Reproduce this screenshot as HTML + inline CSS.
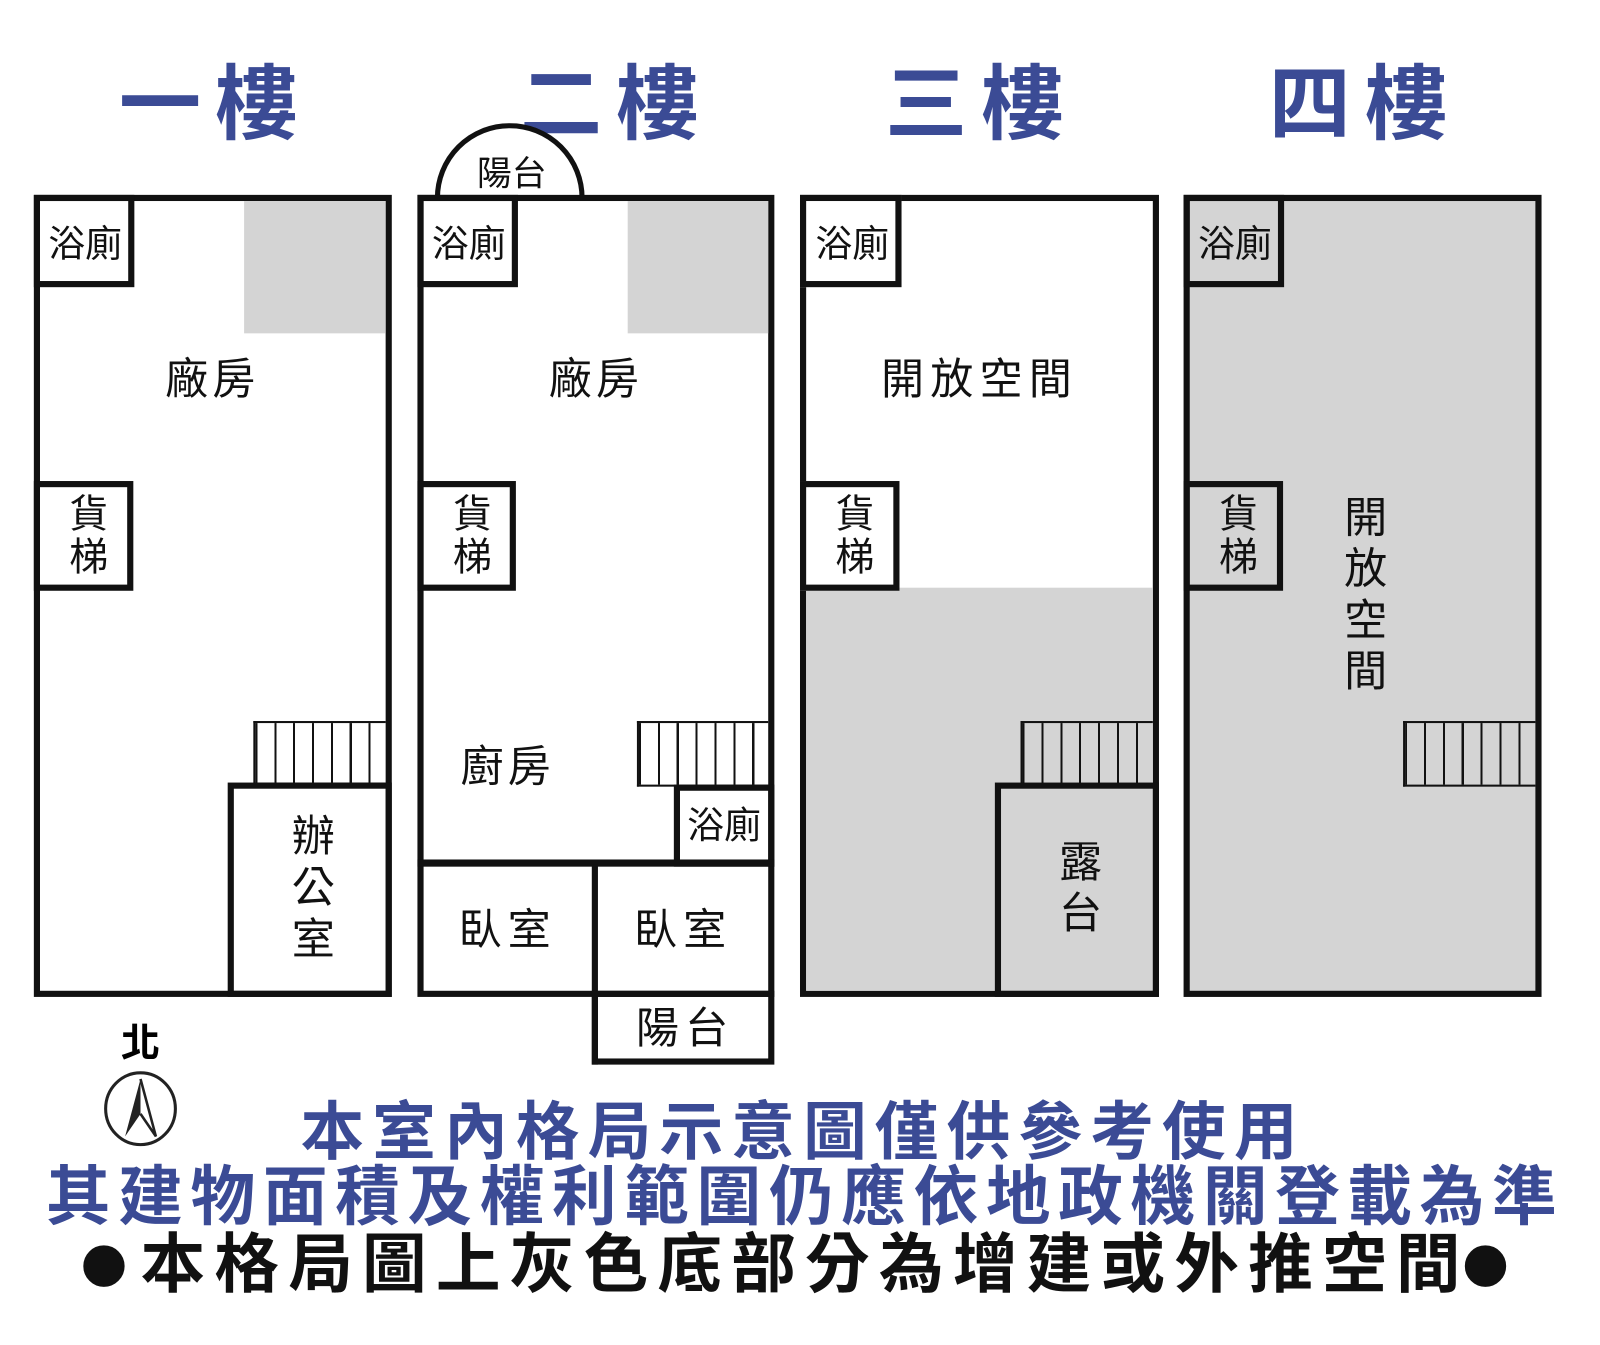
<!DOCTYPE html>
<html><head><meta charset="utf-8"><style>
html,body{margin:0;padding:0;background:#fff;overflow:hidden}
body{width:1600px;height:1307px}
#c{position:absolute;left:0;top:0;width:1560px;height:1275px;transform:scale(1.02564);transform-origin:0 0;font-family:"Liberation Sans","Noto Sans CJK TC",sans-serif}
.a{position:absolute;box-sizing:border-box}
.b{border:6px solid #111}
.g{background:#d4d4d4}
.t{position:absolute;transform:translate(-50%,-50%);white-space:nowrap;color:#111;line-height:1}
.v{writing-mode:vertical-rl;letter-spacing:4px}
.h{position:absolute;transform:translate(-50%,-50%);white-space:nowrap;color:#3b4b95;font-weight:bold;font-size:80px;letter-spacing:14px;line-height:1}
.st{position:absolute;box-sizing:border-box;border:2px solid #111;border-right:none;background:repeating-linear-gradient(90deg,#111 0 2px,transparent 2px 18.4px)}
.bt{position:absolute;transform:translate(-50%,-50%);white-space:nowrap;font-weight:bold;line-height:1}
</style></head><body><div id="c">
<div class="h" style="left:210px;top:102px">一樓</div>
<div class="h" style="left:601px;top:102px">二樓</div>
<div class="h" style="left:957px;top:102px">三樓</div>
<div class="h" style="left:1331px;top:102px">四樓</div>

<!-- floor 1 -->
<div class="a b" style="left:33px;top:190px;width:349px;height:782px"></div>
<div class="a g" style="left:238px;top:196px;width:138px;height:129px"></div>
<div class="a" style="left:33px;top:190px;width:98px;height:90px;border:6px solid #111"></div>
<div class="t" style="left:83px;top:238px;font-size:36px">浴廁</div>
<div class="a" style="left:33px;top:469px;width:97px;height:107px;border:6px solid #111"></div>
<div class="t v" style="left:82px;top:523px;font-size:38px">貨梯</div>
<div class="t" style="left:207px;top:370px;font-size:42px;letter-spacing:4px">廠房</div>
<div class="st" style="left:247px;top:703px;width:129px;height:62px"></div>
<div class="a" style="left:222px;top:763px;width:160px;height:209px;border:6px solid #111"></div>
<div class="t v" style="left:302px;top:868px;font-size:42px;letter-spacing:8px">辦公室</div>

<!-- floor 2 -->
<div class="a" style="left:424px;top:120px;width:146px;height:146px;border:5px solid #111;border-radius:50%;background:#fff;clip-path:inset(0 0 50% 0)"></div>
<div class="t" style="left:499px;top:170px;font-size:34px">陽台</div>
<div class="a b" style="left:407px;top:190px;width:348px;height:782px"></div>
<div class="a g" style="left:612px;top:196px;width:137px;height:129px"></div>
<div class="a" style="left:407px;top:190px;width:98px;height:90px;border:6px solid #111"></div>
<div class="t" style="left:457px;top:238px;font-size:36px">浴廁</div>
<div class="a" style="left:407px;top:469px;width:96px;height:107px;border:6px solid #111"></div>
<div class="t v" style="left:456px;top:523px;font-size:38px">貨梯</div>
<div class="t" style="left:581px;top:370px;font-size:42px;letter-spacing:4px">廠房</div>
<div class="st" style="left:621px;top:703px;width:128px;height:64px"></div>
<div class="t" style="left:495px;top:748px;font-size:42px;letter-spacing:4px">廚房</div>
<div class="a" style="left:657px;top:765px;width:98px;height:80px;border:6px solid #111"></div>
<div class="t" style="left:706px;top:805px;font-size:36px">浴廁</div>
<div class="a" style="left:407px;top:838px;width:348px;height:7px;background:#111"></div>
<div class="a" style="left:577px;top:843px;width:6px;height:195px;background:#111"></div>
<div class="t" style="left:495px;top:907px;font-size:42px;letter-spacing:6px">臥室</div>
<div class="t" style="left:666px;top:907px;font-size:42px;letter-spacing:6px">臥室</div>
<div class="a" style="left:577px;top:966px;width:178px;height:72px;border:6px solid #111"></div>
<div class="t" style="left:668px;top:1003px;font-size:42px;letter-spacing:6px">陽台</div>

<!-- floor 3 -->
<div class="a b" style="left:780px;top:190px;width:350px;height:782px"></div>
<div class="a g" style="left:786px;top:573px;width:338px;height:393px"></div>
<div class="a" style="left:780px;top:190px;width:99px;height:90px;border:6px solid #111;background:#fff"></div>
<div class="t" style="left:831px;top:238px;font-size:36px">浴廁</div>
<div class="a" style="left:780px;top:469px;width:97px;height:107px;border:6px solid #111;background:#fff"></div>
<div class="t v" style="left:829px;top:523px;font-size:38px">貨梯</div>
<div class="t" style="left:955px;top:370px;font-size:42px;letter-spacing:6px">開放空間</div>
<div class="st" style="left:995px;top:703px;width:129px;height:64px"></div>
<div class="a" style="left:970px;top:763px;width:160px;height:209px;border:6px solid #111"></div>
<div class="t v" style="left:1050px;top:868px;font-size:42px;letter-spacing:8px">露台</div>

<!-- floor 4 -->
<div class="a b g" style="left:1154px;top:190px;width:349px;height:782px"></div>
<div class="a" style="left:1154px;top:190px;width:98px;height:90px;border:6px solid #111"></div>
<div class="t" style="left:1204px;top:238px;font-size:36px">浴廁</div>
<div class="a" style="left:1154px;top:469px;width:97px;height:107px;border:6px solid #111"></div>
<div class="t v" style="left:1203px;top:523px;font-size:38px">貨梯</div>
<div class="t v" style="left:1328px;top:582px;font-size:42px;letter-spacing:8px">開放空間</div>
<div class="st" style="left:1368px;top:703px;width:129px;height:64px"></div>

<!-- north -->
<div class="bt" style="left:137px;top:1018px;font-size:38px">北</div>
<svg class="a" style="left:98px;top:1042px" width="80" height="78" viewBox="0 0 80 78">
<ellipse cx="39" cy="39" rx="34" ry="35" fill="none" stroke="#222" stroke-width="3"/>
<path d="M39 10 L24 66 L39 44 Z" fill="#222"/>
<path d="M39 10 L54 66 L39 44" fill="none" stroke="#222" stroke-width="2.5"/>
</svg>

<!-- bottom text -->
<div class="bt" style="left:783px;top:1105px;font-size:62px;letter-spacing:8px;color:#3b4b95">本室內格局示意圖僅供參考使用</div>
<div class="bt" style="left:785px;top:1168px;font-size:63px;letter-spacing:7.5px;color:#3b4b95">其建物面積及權利範圍仍應依地政機關登載為準</div>
<div class="bt" style="left:785px;top:1233px;font-size:63px;letter-spacing:9px;color:#111"><span style="font-size:64px;display:inline-block;transform:scale(2.2);margin:0 10px">•</span>本格局圖上灰色底部分為增建或外推空間<span style="font-size:64px;display:inline-block;transform:scale(2.2);margin:0 10px">•</span></div>
</div></body></html>
